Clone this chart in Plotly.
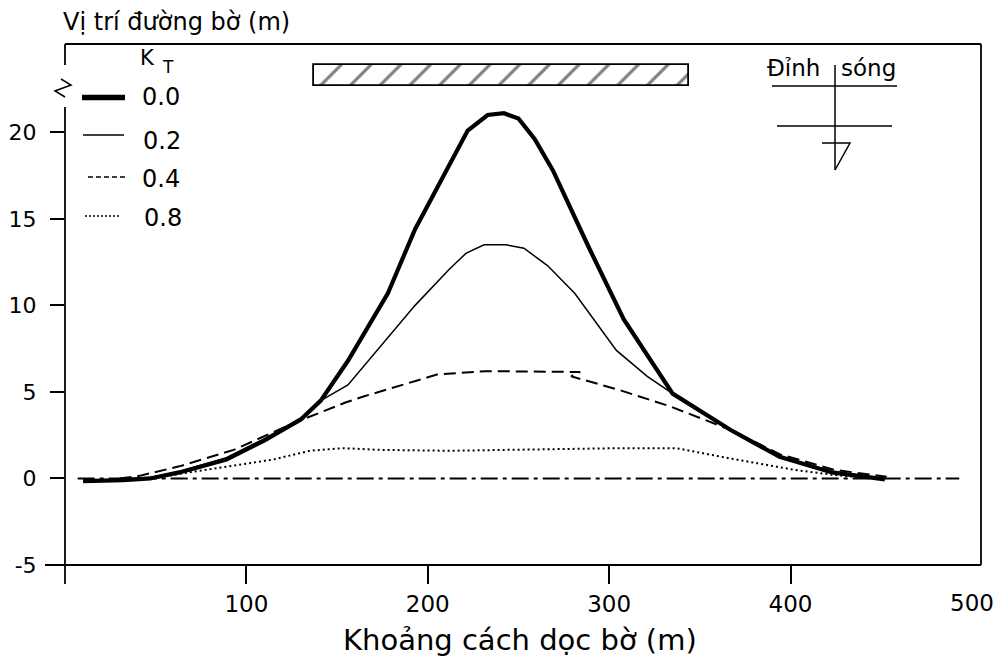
import plotly.graph_objects as go

# ---------------- data ----------------
x_kt00 = [10, 32, 47, 63, 89, 110, 130, 141, 156, 178, 193, 207, 222, 233, 242, 250, 259, 269, 289, 308, 323, 335, 367, 394, 423, 452]
y_kt00 = [-0.15, -0.1, 0.0, 0.35, 1.1, 2.2, 3.4, 4.5, 6.8, 10.7, 14.4, 17.2, 20.1, 21.0, 21.1, 20.8, 19.6, 17.8, 13.3, 9.2, 6.85, 4.9, 2.8, 1.25, 0.35, -0.05]

x_kt02 = [10, 32, 47, 63, 89, 110, 130, 141, 156, 193, 212, 221, 231, 243, 253, 266, 281, 304, 321, 335, 367, 394, 423, 452]
y_kt02 = [-0.15, -0.05, 0.05, 0.4, 1.2, 2.3, 3.5, 4.5, 5.4, 10.0, 12.1, 13.0, 13.5, 13.5, 13.3, 12.3, 10.7, 7.4, 5.9, 4.9, 2.8, 1.2, 0.4, 0.0]

x_kt04 = [30, 41, 63, 93, 126, 155, 165, 205, 232, 284, 279, 306, 334, 367, 394, 424, 453]
y_kt04 = [0.0, 0.15, 0.7, 1.65, 3.2, 4.4, 4.75, 6.0, 6.2, 6.15, 5.9, 5.1, 4.15, 2.8, 1.4, 0.5, 0.1]

x_kt08 = [47, 74, 91, 115, 135, 153, 174, 212, 306, 337, 367, 402, 424, 440]
y_kt08 = [0.0, 0.45, 0.7, 1.1, 1.6, 1.75, 1.65, 1.6, 1.75, 1.75, 1.15, 0.5, 0.2, 0.05]

zero_line_x = [7, 493]
zero_line_y = [0, 0]

breakwater_x = [137, 344]
breakwater_y = [22.7, 23.9]

kt_labels = ["0.0", "0.2", "0.4", "0.8"]
x_ticks = [100, 200, 300, 400]
y_ticks = [-5, 0, 5, 10, 15, 20]
y_tick_text = ["-5", "0", "5", "10", "15", "20"]

FONT = "DejaVu Sans"

# ---------------- pixel helpers for decoration ----------------
L_PX, R_PX, T_PX, B_PX = 65, 981, 44, 565


def px_x(px):
    return (px - L_PX) / (R_PX - L_PX)


def px_y(py):
    return (B_PX - py) / (B_PX - T_PX)


fig = go.Figure()

# breakwater (hatched rectangle)
fig.add_trace(go.Bar(
    x=[(breakwater_x[0] + breakwater_x[1]) / 2],
    y=[breakwater_y[1] - breakwater_y[0]],
    base=[breakwater_y[0]],
    width=[breakwater_x[1] - breakwater_x[0]],
    marker=dict(color="white", line=dict(color="black", width=1.8),
                pattern=dict(shape="/", fgcolor="black", bgcolor="white", size=21, solidity=0.15)),
    showlegend=False, hoverinfo="skip"))

# zero reference line
fig.add_trace(go.Scatter(x=zero_line_x, y=zero_line_y, mode="lines",
                         line=dict(color="black", width=2, dash="17px,5px,4px,5px"),
                         showlegend=False, hoverinfo="skip"))

series = [
    (x_kt08, y_kt08, dict(color="black", width=2, dash="2px,3px")),
    (x_kt04, y_kt04, dict(color="black", width=2, dash="12px,6px")),
    (x_kt02, y_kt02, dict(color="black", width=1.5)),
    (x_kt00, y_kt00, dict(color="black", width=4.2)),
]
for xs, ys, ln in series:
    fig.add_trace(go.Scatter(x=xs, y=ys, mode="lines", line=ln, showlegend=False))

shapes = []


def seg(x0, y0, x1, y1, w=1.5, dash=None):
    line = dict(color="black", width=w)
    if dash:
        line["dash"] = dash
    shapes.append(dict(type="line", xref="paper", yref="paper",
                       x0=px_x(x0), y0=px_y(y0), x1=px_x(x1), y1=px_y(y1), line=line))


# frame
seg(65, 44, 981, 44, 1.8)            # top border
seg(981, 44, 981, 565, 1.8)          # right border
seg(45, 565, 981, 565, 1.8)          # bottom axis
seg(65, 44, 65, 65, 1.8)             # left axis upper piece
seg(65, 107, 65, 584, 1.8)           # left axis lower piece
# axis break mark
shapes.append(dict(type="path", xref="paper", yref="paper",
                   path="M %f,%f L %f,%f L %f,%f L %f,%f" % (
                       px_x(61), px_y(79), px_x(71), px_y(85), px_x(55), px_y(91), px_x(65), px_y(97)),
                   line=dict(color="black", width=1.5)))

# legend samples
seg(82, 97.5, 125, 97.5, 5.5)
seg(83, 135, 124, 135, 1.5)
seg(88, 177, 125, 177, 1.5, "5px,3px")
seg(85, 216, 120, 216, 1.5, "2px,2px")

# wave crest symbol
seg(772, 86, 897, 86, 1.5)
seg(835, 65, 835, 170, 1.5)
seg(777, 126, 892, 126, 1.5)
shapes.append(dict(type="path", xref="paper", yref="paper",
                   path="M %f,%f L %f,%f L %f,%f" % (
                       px_x(822), px_y(143), px_x(850), px_y(143), px_x(835), px_y(170)),
                   line=dict(color="black", width=1.5)))

annotations = []


def txt(t, x, y, size, xanchor="center", yanchor="middle"):
    annotations.append(dict(text=t, xref="paper", yref="paper", x=px_x(x), y=px_y(y),
                            xanchor=xanchor, yanchor=yanchor, showarrow=False,
                            font=dict(family=FONT, size=size, color="black")))


txt("Vị trí đường bờ (m)", 61, 22, 24, xanchor="left")
txt("Khoảng cách dọc bờ (m)", 520, 640, 29)
txt("K", 147.5, 58, 21)
txt("T", 168, 67, 17)
legend_y = [97.5, 141, 179, 217.5]
legend_x = [161, 162, 161, 163]
for lab, lx, ly in zip(kt_labels, legend_x, legend_y):
    txt(lab, lx, ly, 24)
txt("Đỉnh", 793.5, 68, 23)
txt("sóng", 868, 68, 23)
# 500 label (no tick in the reference)
annotations.append(dict(text="500", xref="x", yref="paper", x=500, y=px_y(603),
                        xanchor="center", yanchor="middle", showarrow=False,
                        font=dict(family=FONT, size=23, color="black")))

fig.update_layout(
    width=997, height=659, autosize=False,
    margin=dict(l=L_PX, r=997 - R_PX, t=T_PX, b=659 - B_PX, pad=0),
    paper_bgcolor="white", plot_bgcolor="white",
    font=dict(family=FONT, size=22, color="black"),
    shapes=shapes, annotations=annotations,
    xaxis=dict(range=[0, 505], tickvals=x_ticks, ticks="outside", ticklen=18, tickwidth=1.8,
               tickcolor="black", showline=False, showgrid=False, zeroline=False, automargin=False,
               tickfont=dict(family=FONT, size=23), ticklabelstandoff=0, fixedrange=True),
    yaxis=dict(range=[-5, 25.1], tickvals=y_ticks, ticktext=y_tick_text, ticks="outside", ticklen=14,
               tickwidth=1.8, tickcolor="black", showline=False, showgrid=False, zeroline=False,
               automargin=False, tickfont=dict(family=FONT, size=22), ticklabelstandoff=9,
               fixedrange=True),
    bargap=0,
)

fig.write_html("out.html")
